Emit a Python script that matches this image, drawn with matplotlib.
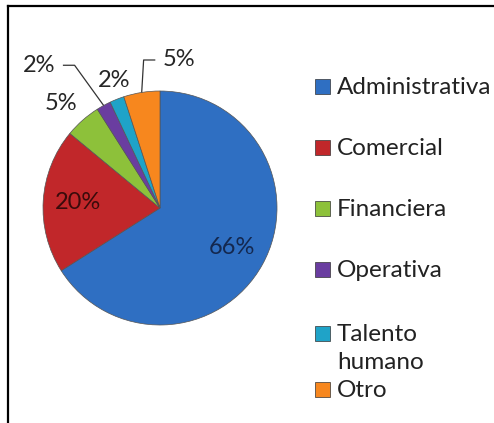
import numpy as np
import matplotlib
matplotlib.use("Agg")
import matplotlib.pyplot as plt
from matplotlib.patches import Rectangle
from matplotlib.lines import Line2D

plt.rcParams['font.family'] = ['Lato', 'DejaVu Sans']

categories = ['Administrativa', 'Comercial', 'Financiera', 'Operativa',
              'Talento\nhumano', 'Otro']
values = [66, 20, 5, 2, 2, 5]
colors = ['#2F6FC2', '#C1272A', '#8DC13A', '#6A3DA0', '#1FA3C8', '#F7871E']
pct_colors = ['#14284F', '#3A0B0B', '#262626', '#262626', '#262626', '#262626']

# label placement for the small slices (x, y in pie radius units) and leader lines
outside = {2: (-0.85, 0.89), 3: (-1.03, 1.22), 4: (-0.39, 1.09), 5: (0.16, 1.265)}
leaders = {3: 1, 5: -1}  # direction of the short horizontal stub

W, H = 494, 423
fig = plt.figure(figsize=(W / 100, H / 100), dpi=100)

# pie centre at (160, 208) px, radius 117 px
cx, cy, r = 160, 208, 117
span = 1.35
ax = fig.add_axes([(cx - span * r) / W, (H - cy - span * r) / H,
                   2 * span * r / W, 2 * span * r / H])

wedges, _ = ax.pie(values, colors=colors, startangle=90, counterclock=False,
                   wedgeprops=dict(linewidth=0.5, edgecolor='#555555'))
ax.set_xlim(-span, span)
ax.set_ylim(-span, span)
ax.set_aspect('equal')
ax.axis('off')

total = sum(values)
for i, (w, v) in enumerate(zip(wedges, values)):
    mid = np.deg2rad((w.theta1 + w.theta2) / 2)
    txt = f'{round(100 * v / total)}%'
    if i in outside:
        lx, ly = outside[i]
        ax.text(lx, ly, txt, ha='center', va='center', fontsize=17,
                color=pct_colors[i])
        if i in leaders:
            d = leaders[i]
            x0 = lx + d * 0.2
            ax.plot([x0, x0 + d * 0.1, np.cos(mid)], [ly, ly, np.sin(mid)],
                    color='#333333', lw=0.9, solid_capstyle='butt')
    else:
        ax.text(0.7 * np.cos(mid), 0.7 * np.sin(mid), txt, ha='center',
                va='center', fontsize=17, color=pct_colors[i])

# legend (baseline of the first line of each entry, px from top)
leg_baselines = [94, 155, 216, 277, 341, 397]
line_step = 28
for lab, col, yb in zip(categories, colors, leg_baselines):
    fig.patches.append(Rectangle((315 / W, 1 - yb / H), 15 / W, 15 / H,
                                 transform=fig.transFigure, facecolor=col,
                                 edgecolor='#333333', linewidth=0.5))
    for k, part in enumerate(lab.split('\n')):
        fig.text(337 / W, 1 - (yb + k * line_step) / H, part, ha='left',
                 va='baseline', fontsize=17.5, color='#222222')

# frame (cropped on the right and bottom)
fig.lines.append(Line2D([8 / W, 8 / W], [1 - 6 / H, 0], transform=fig.transFigure,
                        color='black', lw=1.6))
fig.lines.append(Line2D([8 / W, 1], [1 - 6 / H, 1 - 6 / H], transform=fig.transFigure,
                        color='black', lw=1.6))

fig.savefig('out.png', dpi=100)
